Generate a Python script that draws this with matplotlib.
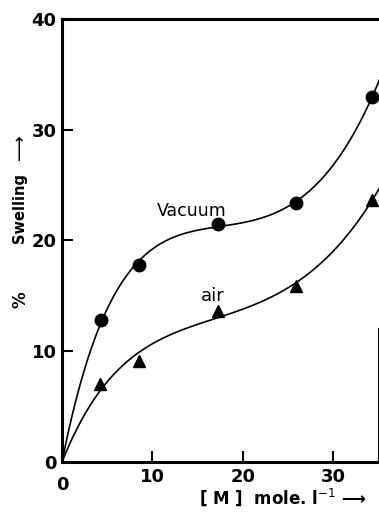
import numpy as np
import matplotlib
matplotlib.use("Agg")
import matplotlib.pyplot as plt

# Monomer concentration [M] (mole/l) and percent swelling
conc_vacuum = [4.3, 8.5, 17.2, 25.9, 34.3]
swell_vacuum = [12.8, 17.8, 21.5, 23.4, 33.0]
conc_air = [4.2, 8.5, 17.2, 25.9, 34.3]
swell_air = [7.0, 9.1, 13.6, 15.9, 23.7]

x_ticks = [0, 10, 20, 30]
y_ticks = [0, 10, 20, 30, 40]


def smooth_trend(x, y, xs):
    """Least-squares trend through the origin: saturating rise + linear + steep upturn."""
    x = np.asarray(x, float)
    y = np.asarray(y, float)

    def basis(v, b):
        return np.column_stack([1 - np.exp(-v / b), v, (v / 35.0) ** 4])

    best = None
    for b in np.linspace(1.0, 12.0, 221):
        coef, *_ = np.linalg.lstsq(basis(x, b), y, rcond=None)
        err = np.sum((basis(x, b) @ coef - y) ** 2)
        if best is None or err < best[0]:
            best = (err, b, coef)
    _, b, coef = best
    return basis(xs, b) @ coef


fig = plt.figure(figsize=(3.79, 5.13), dpi=100)
ax = fig.add_axes([62 / 379, 51 / 513, (378.5 - 62) / 379, (462 - 19) / 513])

xs = np.linspace(0, 36, 500)
ax.plot(xs, smooth_trend(conc_vacuum, swell_vacuum, xs), color="black", lw=1.2)
ax.plot(xs, smooth_trend(conc_air, swell_air, xs), color="black", lw=1.2)
ax.plot(conc_vacuum, swell_vacuum, "o", color="black", ms=9)
ax.plot(conc_air, swell_air, "^", color="black", ms=8)

ax.set_xlim(0, 35)
ax.set_ylim(0, 40)
ax.set_xticks(x_ticks)
ax.set_yticks(y_ticks)
ax.tick_params(direction="in", length=8, width=1.5, labelsize=13, pad=4)
for lab in ax.get_xticklabels() + ax.get_yticklabels():
    lab.set_fontweight("bold")
ax.set_xticklabels([""] + [str(v) for v in x_ticks[1:]])

for side in ["left", "bottom", "top"]:
    ax.spines[side].set_linewidth(2.2)
ax.spines["right"].set_linewidth(1.5)
ax.spines["right"].set_bounds(0, 12)

# origin zero below the x axis
ax.text(0, -1.3, "0", ha="center", va="top", fontsize=13, fontweight="bold",
        transform=ax.transData, clip_on=False)

ax.text(14.3, 22.7, "Vacuum", ha="center", va="center", fontsize=12.5)
ax.text(16.7, 15.0, "air", ha="center", va="center", fontsize=13)

# y-axis title: "%", "Swelling" and an arrow pointing up
fig.text(20 / 379, 1 - 300 / 513, "%", rotation=90,
         ha="center", va="center", fontsize=12, fontweight="bold")
fig.text(20 / 379, 1 - 208 / 513, "Swelling", rotation=90,
         ha="center", va="center", fontsize=10.5, fontweight="bold")
fig.text(20 / 379, 1 - 147 / 513, "\u27f6", rotation=90,
         ha="center", va="center", fontsize=13)
fig.text(283 / 379, 1 - 497 / 513, "[ M ]  mole. l$^{-1}$ \u27f6",
         ha="center", va="center", fontsize=12, fontweight="bold")

fig.savefig("out.png", dpi=100)
